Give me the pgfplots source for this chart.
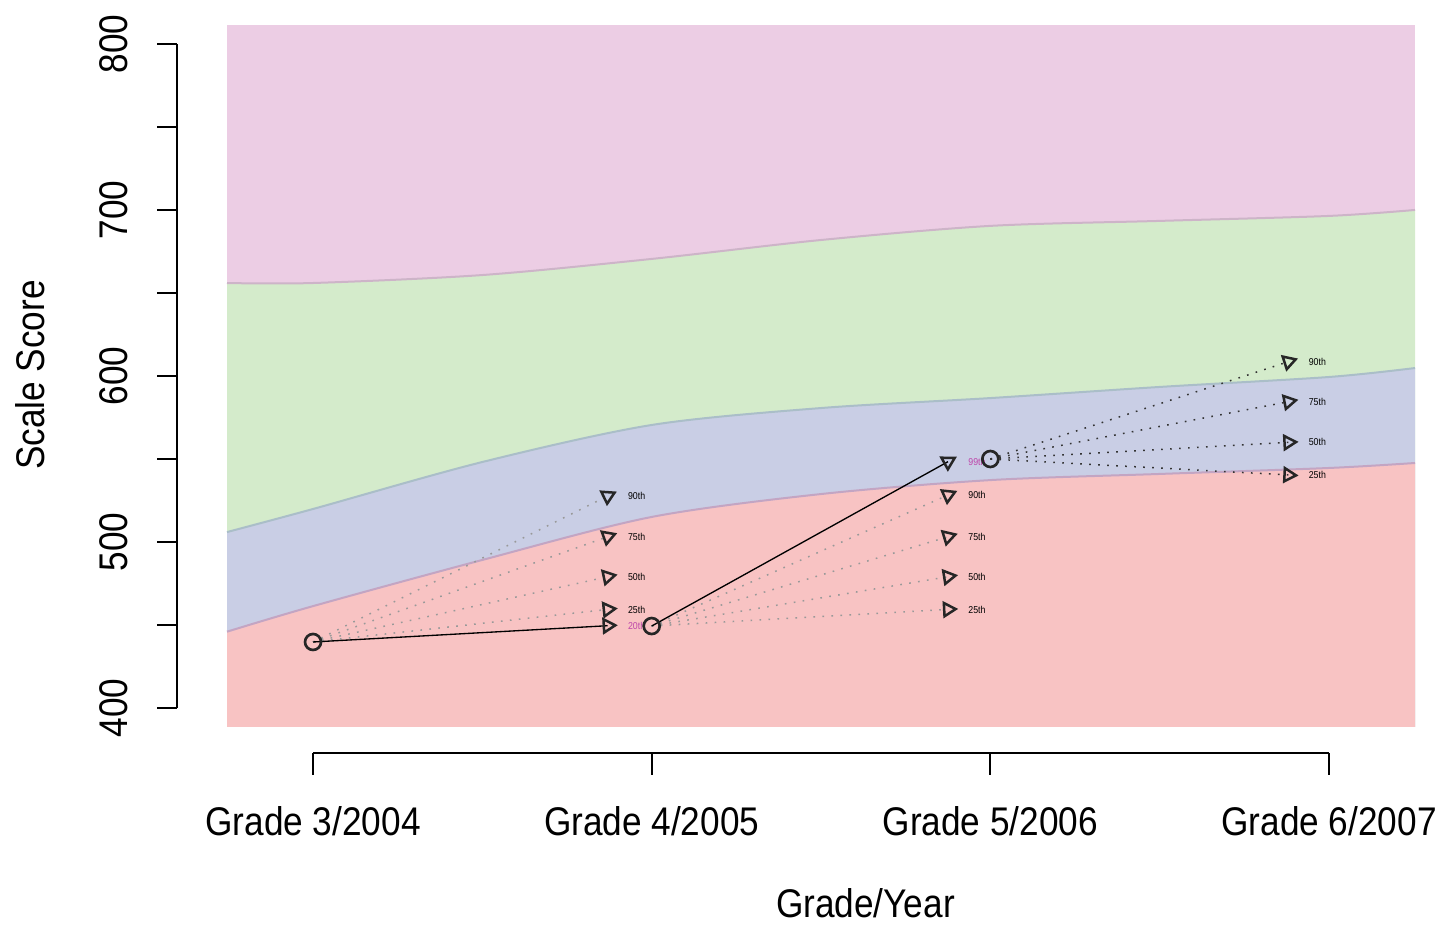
\documentclass[border=0pt]{standalone}
\usepackage{pgfplots}
\pgfplotsset{compat=1.18}
\usepgfplotslibrary{fillbetween}
\usepackage{fontspec}
\setmainfont[FakeStretch=0.88]{Liberation Sans}

\definecolor{cpurple}{RGB}{236,205,228}
\definecolor{cgreen}{RGB}{212,235,203}
\definecolor{cblue}{RGB}{201,206,229}
\definecolor{cred}{RGB}{248,195,195}
\definecolor{cmag}{RGB}{190,70,170}
\definecolor{lgp}{RGB}{205,180,200}
\definecolor{lbg}{RGB}{170,190,200}
\definecolor{lrb}{RGB}{195,165,195}

\pgfplotstableread{
x y lab
3.87 527.7 90th
3.87 503.2 75th
3.87 479.1 50th
3.87 459.4 25th
4.875 528.3 90th
4.875 503.2 75th
4.875 479.1 50th
4.875 459.4 25th
5.88 608.6 90th
5.88 584.5 75th
5.88 560.0 50th
5.88 540.4 25th
}\labblack
\pgfplotstableread{
x y lab
3.87 449.6 20th
4.875 548.4 99th
}\labmag

\newcommand\dl[5]{\addplot[#5, line width=0.45pt, dash pattern=on 0.5pt off 2.2pt] coordinates {(#1,#2) (#3,#4)};}
\newcommand\tri[3]{\addplot[only marks, mark=triangle, mark size=2.3pt, mark options={rotate=#3, draw=black!85, line width=0.75pt, fill=none}] coordinates {(#1,#2)};}

\begin{document}
\begin{tikzpicture}
\begin{axis}[at={(68.1pt,59.7pt)}, anchor=south west, scale only axis,
  width=356.4pt, height=210.6pt,
  xmin=2.746, xmax=6.254, ymin=388.6, ymax=811.4,
  axis lines=none, clip=false]

\addplot[name path=bot, draw=none] coordinates {(2.746,388.6) (6.254,388.6)};
\addplot[name path=top, draw=none] coordinates {(2.746,811.4) (6.254,811.4)};
\addplot[name path=gp, lgp, line width=0.6pt, smooth] coordinates {
(2.746,656.0) (3,656.0) (3.5,660.8) (4,670.5) (4.5,681.9) (5,690.4) (5.5,693.4) (6,696.4) (6.254,700.0)};
\addplot[name path=bg, lbg, line width=0.6pt, smooth] coordinates {
(2.746,506.0) (3,519.9) (3.5,548.2) (4,570.5) (4.5,580.7) (5,586.7) (5.5,593.4) (6,599.4) (6.254,604.8)};
\addplot[name path=rb, lrb, line width=0.6pt, smooth] coordinates {
(2.746,446.0) (3,461.4) (3.5,489.2) (4,515.1) (4.5,528.9) (5,537.3) (5.5,541.0) (6,544.6) (6.254,547.6)};

\addplot[cpurple] fill between[of=bot and top];
\addplot[cgreen] fill between[of=bot and gp];
\addplot[cblue] fill between[of=bot and bg];
\addplot[cred] fill between[of=bot and rb];

% dotted projections
\dl{3}{439.8}{3.87}{527.7}{black!40}
\dl{3}{439.8}{3.87}{503.2}{black!40}
\dl{3}{439.8}{3.87}{479.1}{black!40}
\dl{3}{439.8}{3.87}{459.4}{black!40}
\dl{4}{449.4}{4.875}{528.3}{black!40}
\dl{4}{449.4}{4.875}{503.2}{black!40}
\dl{4}{449.4}{4.875}{479.1}{black!40}
\dl{4}{449.4}{4.875}{459.4}{black!40}
\dl{5}{550.0}{5.88}{608.6}{black!80}
\dl{5}{550.0}{5.88}{584.5}{black!80}
\dl{5}{550.0}{5.88}{560.0}{black!80}
\dl{5}{550.0}{5.88}{540.4}{black!80}

% solid lines
\addplot[black, line width=0.4pt] coordinates {(3,439.8) (3.87,449.6)};
\addplot[black, line width=0.4pt] coordinates {(4,449.4) (4.875,548.4)};

% triangles
\tri{3.87}{527.7}{-64}
\tri{3.87}{503.2}{-70}
\tri{3.87}{479.1}{-78}
\tri{3.87}{459.4}{-84}
\tri{3.87}{449.6}{-87}
\tri{4.875}{548.4}{-61}
\tri{4.875}{528.3}{-66}
\tri{4.875}{503.2}{-73}
\tri{4.875}{479.1}{-81}
\tri{4.875}{459.4}{-87}
\tri{5.88}{608.6}{-72}
\tri{5.88}{584.5}{-79}
\tri{5.88}{560.0}{-87}
\tri{5.88}{540.4}{-93}

% labels
\addplot[draw=none, mark=none, nodes near coords, point meta=explicit symbolic,
  nodes near coords style={anchor=west, xshift=2.6pt, font=\fontsize{3}{3.5}\selectfont, text=black}]
  table[meta=lab] {\labblack};
\addplot[draw=none, mark=none, nodes near coords, point meta=explicit symbolic,
  nodes near coords style={anchor=west, xshift=2.6pt, font=\fontsize{3}{3.5}\selectfont, text=cmag}]
  table[meta=lab] {\labmag};

% observed scores
\addplot[only marks, mark=o, mark size=2.4pt, mark options={draw=black!85, line width=0.8pt}]
  coordinates {(3,439.8) (4,449.4) (5,550.0)};

% y axis
\draw[line width=0.55pt] (axis cs:2.599,400) -- (axis cs:2.599,800);
\draw[line width=0.55pt] (axis cs:2.599,400) -- ++(-6pt,0pt);
\draw[line width=0.55pt] (axis cs:2.599,450) -- ++(-6pt,0pt);
\draw[line width=0.55pt] (axis cs:2.599,500) -- ++(-6pt,0pt);
\draw[line width=0.55pt] (axis cs:2.599,550) -- ++(-6pt,0pt);
\draw[line width=0.55pt] (axis cs:2.599,600) -- ++(-6pt,0pt);
\draw[line width=0.55pt] (axis cs:2.599,650) -- ++(-6pt,0pt);
\draw[line width=0.55pt] (axis cs:2.599,700) -- ++(-6pt,0pt);
\draw[line width=0.55pt] (axis cs:2.599,750) -- ++(-6pt,0pt);
\draw[line width=0.55pt] (axis cs:2.599,800) -- ++(-6pt,0pt);
\begin{scope}[every node/.style={inner sep=0pt, font=\fontsize{12}{14}\selectfont}]
\node[rotate=90] at (axis cs:2.413,400) {400};
\node[rotate=90] at (axis cs:2.413,500) {500};
\node[rotate=90] at (axis cs:2.413,600) {600};
\node[rotate=90] at (axis cs:2.413,700) {700};
\node[rotate=90] at (axis cs:2.413,800) {800};
\node[rotate=90] at (axis cs:2.165,600.6) {Scale Score};
\node at (axis cs:3,331.9) {Grade 3/2004};
\node at (axis cs:4,331.9) {Grade 4/2005};
\node at (axis cs:5,331.9) {Grade 5/2006};
\node at (axis cs:6,331.9) {Grade 6/2007};
\node at (axis cs:4.631,282.5) {Grade/Year};
\end{scope}

% x axis
\draw[line width=0.55pt] (axis cs:3,372.9) -- (axis cs:6,372.9);
\draw[line width=0.55pt] (axis cs:3,372.9) -- ++(0pt,-6.5pt);
\draw[line width=0.55pt] (axis cs:4,372.9) -- ++(0pt,-6.5pt);
\draw[line width=0.55pt] (axis cs:5,372.9) -- ++(0pt,-6.5pt);
\draw[line width=0.55pt] (axis cs:6,372.9) -- ++(0pt,-6.5pt);
\end{axis}
\path (0,0) rectangle (432.6pt,277.8pt);
\end{tikzpicture}
\end{document}
